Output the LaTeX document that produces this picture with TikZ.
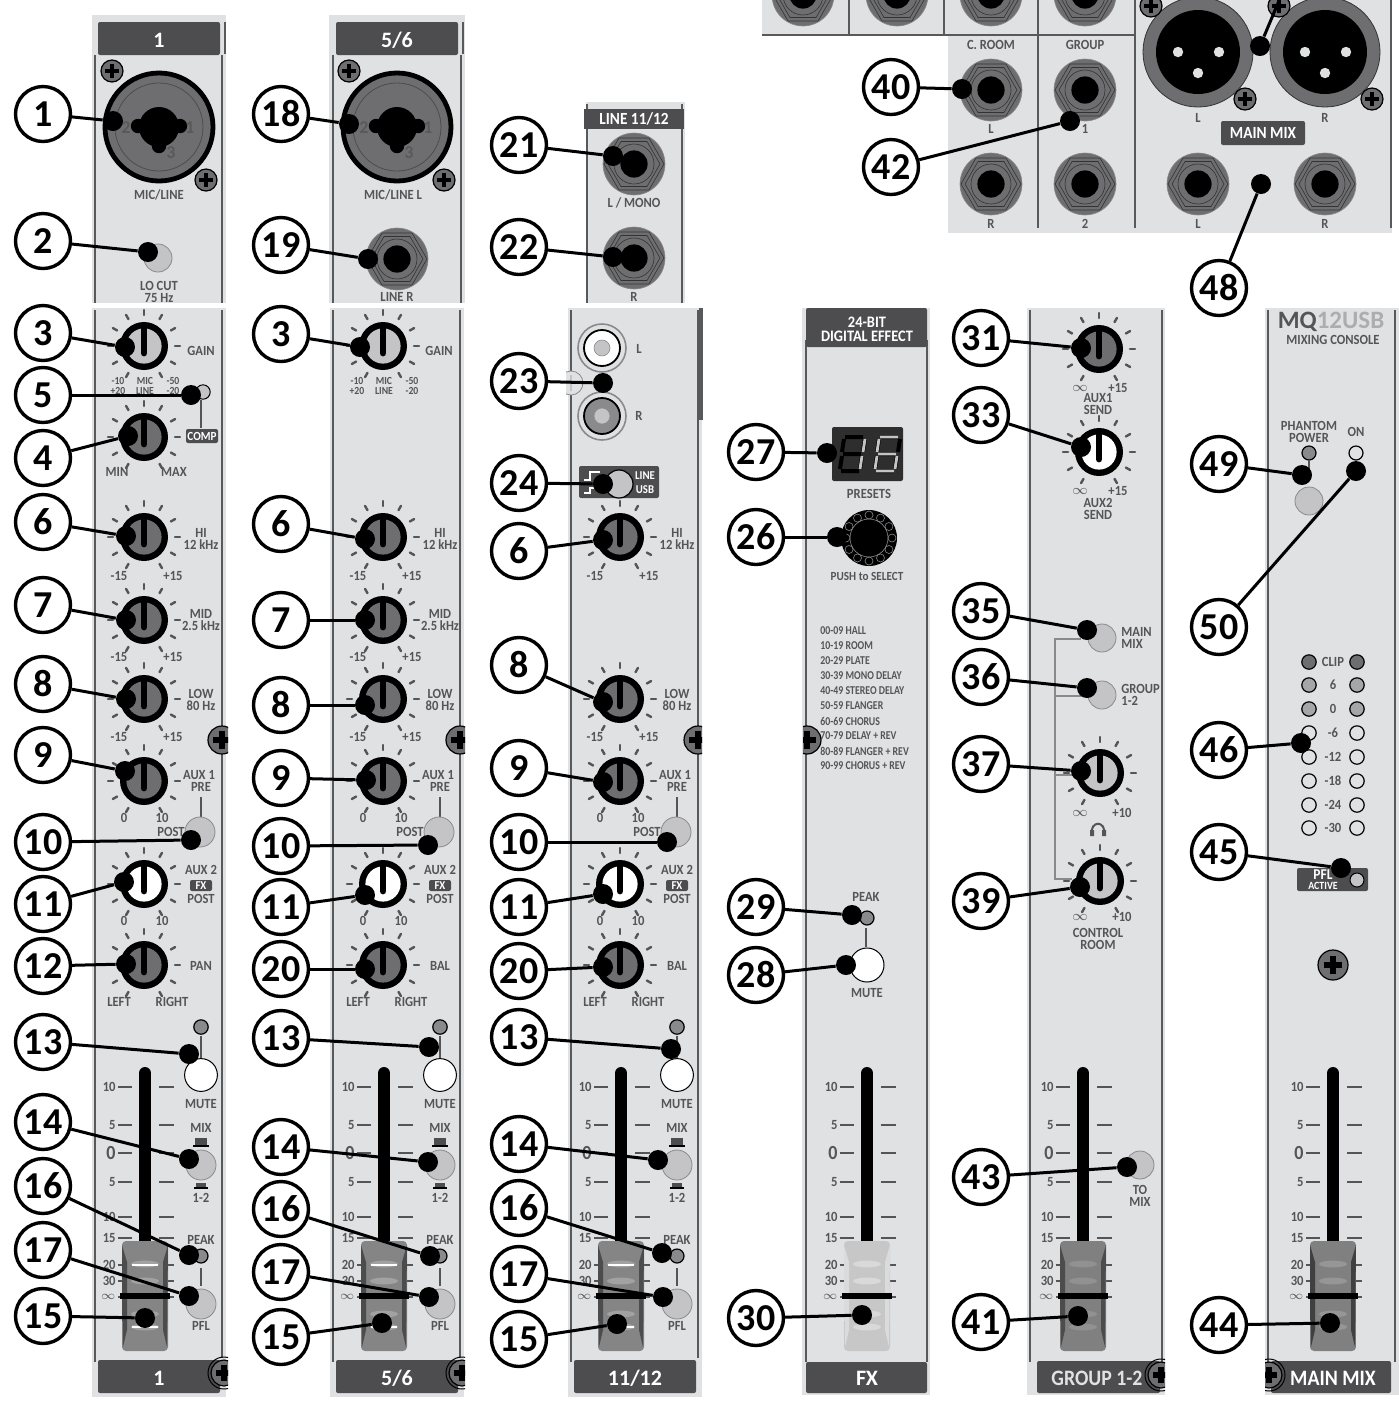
\documentclass[tikz,border=0pt]{standalone}
\usepackage{fontspec}
\setmainfont{Carlito}
\newfontfamily\labfont[FakeStretch=0.9]{Carlito}
\newfontfamily\listfont[FakeStretch=0.82]{Carlito}
\definecolor{pnl}{HTML}{E0E1E3}
\definecolor{edge}{HTML}{58595B}
\definecolor{hdr}{HTML}{4D4D4F}
\definecolor{txt}{HTML}{555557}
\definecolor{midg}{HTML}{6E6E70}
\definecolor{ltg}{HTML}{C4C4C6}
\definecolor{ledg}{HTML}{8A8A8C}
\tikzset{
  lbl/.style={text=txt,font=\labfont\fontsize{7}{6}\bfseries\selectfont,inner sep=0pt,align=center},
  tight/.style={font=\labfont\fontsize{5.4}{5}\bfseries\selectfont},
  wht/.style={lbl,text=white},
  hdrtxt/.style={lbl,text=white,font=\fontsize{11}{10}\bfseries\selectfont},
  callnode/.style={circle,draw=black,line width=1.7pt,fill=white,minimum size=27.5pt,inner sep=0pt,font=\fontsize{19}{19}\bfseries\selectfont},
  dotnode/.style={circle,fill=black,minimum size=10pt,inner sep=0pt},
  conn/.style={line width=1.5pt,draw=black},
  edgeline/.style={draw=edge,line width=1.2pt},
  thinline/.style={draw=txt,line width=.6pt},
  btn/.style={draw=ledg,line width=.4pt},
  led/.style={draw=black,line width=.6pt},
  tick/.style={draw=txt,line width=1.2pt,line cap=round},
}
\newcommand{\lab}[4][]{\node[lbl,#1] at (#2,#3) {#4};}
\newcommand{\knob}[3]{%
  \foreach \a in {120,150,...,420} {\draw[tick] (#1,#2) ++(\a:31) -- ++(\a:5);}
  \fill[black] (#1,#2) circle[radius=12pt];
  \fill[#3] (#1,#2) circle[radius=8.8pt];
  \draw[black,line width=.25pt,draw opacity=.5,dash pattern=on 2pt off 1pt] (#1,#2) circle[radius=10pt];
  \draw[black,line width=3.4pt,line cap=round] (#1,#2+7) -- (#1,#2-19);
}
\newcommand{\screw}[3]{%
  \filldraw[fill=midg,draw=black,line width=.6pt] (#1,#2) circle[radius=#3*.5pt];
  \draw[black,line width=#3*.2pt] (#1-#3*.62,#2) -- (#1+#3*.62,#2) (#1,#2-#3*.62) -- (#1,#2+#3*.62);
}
\newcommand{\bigscrew}[2]{%
  \draw[black,line width=.5pt] (#1,#2) circle[radius=8pt];
  \screw{#1}{#2}{13}
}
\newcommand{\jack}[2]{%
  \begin{scope}[shift={(#1,#2)}]
  \filldraw[fill=midg,draw=ledg,line width=.3pt] (0,0) circle[radius=15.5pt];
  \draw[draw=black!80,line width=.3pt] (0:30) -- (60:30) -- (120:30) -- (180:30) -- (240:30) -- (300:30) -- cycle;
  \draw[draw=black!80,line width=.3pt] (0:26) -- (60:26) -- (120:26) -- (180:26) -- (240:26) -- (300:26) -- cycle;
  \draw[draw=black!80,line width=.3pt] (0,0) circle[radius=10pt];
  \fill[black] (0,0) circle[radius=6.8pt];
  \end{scope}
}
\newcommand{\xlr}[2]{%
  \begin{scope}[shift={(#1,#2)}]
  \filldraw[fill=midg,draw=black!80,line width=.4pt] (0,0) circle[radius=27.5pt];
  \fill[black] (0,0) circle[radius=21pt];
  \fill[pnl] (-20,0) circle[radius=2.6pt] (21,0) circle[radius=2.6pt] (0,21) circle[radius=2.6pt];
  \end{scope}
}
\newcommand{\combo}[2]{%
  \begin{scope}[shift={(#1,#2)}]
  \filldraw[fill=midg,draw=black,line width=2.4pt] (0,0) circle[radius=27pt];
  \draw[black!70,line width=.4pt] (0,0) circle[radius=22pt];
  \fill[black] (0,0) circle[radius=10pt] (-21,-1) circle[radius=3.6pt] (21,-1) circle[radius=3.6pt] (0,19) circle[radius=3.6pt];
  \fill[black] (-21,-4) rectangle (21,2);
  \node[lbl,text=black!65,font=\fontsize{9}{9}\bfseries\selectfont] at (-33,1) {2};
  \node[lbl,text=black!65,font=\fontsize{9}{9}\bfseries\selectfont] at (31,1) {1};
  \node[lbl,text=black!65,font=\fontsize{9}{9}\bfseries\selectfont] at (12,26) {3};
  \end{scope}
}
\newcommand{\panel}[4]{\fill[pnl] (#1,#2) rectangle (#3,#4);}
\newcommand{\hdrbox}[4]{\fill[hdr,rounded corners=1pt] (#1,#2) rectangle (#3,#4);}
\newcommand{\fader}[4]{% x, shade end colour, side colour, ridge colour
  \colorlet{sidec}{#3}
  \colorlet{sidem}{sidec!30}
  \begin{scope}[shift={(#1,0)}]
  \foreach \y/\t/\s in {1087/10/7,1125/5/7,1153/0/10,1182/5/7,1217/10/7,1238/15/7,1265/20/7,1281/30/7,1297/{$\infty$}/6} {
    \node[lbl,anchor=east,font=\labfont\fontsize{\s}{\s}\bfseries\selectfont] at (-29,\y) {\t};
    \draw[draw=txt,line width=.8pt] (-27,\y) -- (-13,\y) (14,\y) -- (29,\y);
  }
  \draw[black,line width=6pt,line cap=round] (0,1073) -- (0,1250);
  \shade[top color=#2,middle color=white,bottom color=#2,rounded corners=2pt] (-23,1241) rectangle (23,1351);
  \shade[top color=sidec,middle color=sidem,bottom color=sidec] (-23,1245) -- (-18,1262) -- (-18,1330) -- (-22,1347) -- cycle;
  \shade[top color=sidec,middle color=sidem,bottom color=sidec] (23,1245) -- (18,1262) -- (18,1330) -- (22,1347) -- cycle;
  \foreach \y in {1264,1281,1314,1327} {\fill[#4,fill opacity=.45] (0,\y) ellipse[x radius=7pt,y radius=1.7pt];}
  \draw[black,line width=3pt] (-25,1296) -- (25,1296);
  \end{scope}
}
\newcommand{\eqrows}[1]{%
  \knob{144}{537}{midg}
  \lab{201}{533}{HI}\lab{201}{545}{12 kHz}\lab{119}{576}{-15}\lab{173}{576}{+15}
  \ifnum#1=1
  \knob{144}{620}{midg}
  \lab{201}{614}{MID}\lab{201}{626}{2.5 kHz}\lab{119}{657}{-15}\lab{173}{657}{+15}
  \fi
  \knob{144}{699}{midg}
  \lab{201}{694}{LOW}\lab{201}{706}{80 Hz}\lab{119}{737}{-15}\lab{173}{737}{+15}
}
\newcommand{\auxrows}[1]{%
  \knob{144}{781}{midg}
  \lab{199}{775}{AUX 1}\lab{201}{787}{PRE}\lab{124}{818}{0}\lab{162}{818}{10}\lab{171}{832}{POST}
  \draw[thinline] (201,797) -- (201,818);
  \filldraw[fill=ltg,btn] (200,832) circle[radius=7.5pt];
  \knob{144}{884}{white}
  \lab{201}{870}{AUX 2}\lab{201}{899}{POST}\lab{124}{921}{0}\lab{162}{921}{10}
  \fill[hdr,rounded corners=1pt] (190,880) rectangle (212,891);
  \node[wht,font=\labfont\fontsize{6}{6}\bfseries\selectfont] at (201,885.5) {FX};
  \knob{144}{965}{midg}
  \lab{201}{966}{#1}\lab{119}{1002}{LEFT}\lab{172}{1002}{RIGHT}
}
\newcommand{\lowerrow}{%
  \filldraw[fill=ledg,led] (201,1027) circle[radius=3.6pt];
  \draw[thinline] (201,1036) -- (201,1058);
  \filldraw[fill=white,draw=black,line width=.5pt] (201,1075) circle[radius=8.2pt];
  \lab{201}{1104}{MUTE}
  \lab{201}{1128}{MIX}
  \fill[hdr] (195,1138) rectangle (207,1145);
  \draw[black,line width=.6pt] (193,1146) -- (209,1146);
  \filldraw[fill=ltg,btn] (201,1165) circle[radius=7.5pt];
  \fill[hdr] (196,1183) rectangle (206,1187);
  \draw[black,line width=.6pt] (194,1188) -- (208,1188);
  \lab{201}{1198}{1-2}
  \lab{201}{1240}{PEAK}
  \filldraw[fill=ledg,led] (201,1256) circle[radius=3.5pt];
  \draw[thinline] (201,1268) -- (201,1286);
  \filldraw[fill=ltg,btn] (201,1304) circle[radius=7.5pt];
  \lab{201}{1326}{PFL}
  \fader{145}{black!48}{black!70}{black!22}
  \draw[white,line width=.7pt] (132,1265) -- (158,1265) (132,1327) -- (158,1327);
}
\newcommand{\strip}[2]{% panel skeleton at offset, bottom label
  \begin{scope}[shift={(#1,0)}]
  \panel{92}{308}{226}{1397}
  \draw[edgeline] (95,310) -- (95,1362) (222,310) -- (222,1358);
  \hdrbox{98}{1360}{220}{1393}
  \node[hdrtxt] at (159,1378) {#2};
  \end{scope}
}
\newcommand{\bottomScrew}[4]{%
  \begin{scope}\clip (#3,#2-30) rectangle (#4,#2+30); \bigscrew{#1}{#2} \end{scope}
}
\newcommand{\sideScrew}[4]{%
  \begin{scope}\clip (#3,#2-30) rectangle (#4,#2+30); \screw{#1}{#2}{14} \end{scope}
}
\newcommand{\callout}[6]{%
  \node[dotnode] (d#1) at (#5,#6) {};
  \node[callnode] (c#1) at (#3,#4) {#2};
  \draw[conn] (c#1) -- (d#1);
}
\begin{document}
\begin{tikzpicture}[x=.5pt,y=-.5pt]
\useasboundingbox (0,0) rectangle (1399,1405);
\clip (0,0) rectangle (1399,1405);
\fill[white] (0,0) rectangle (1399,1405);
% ---- strip 1 top
\panel{92}{15}{226}{303}
\hdrbox{98}{22}{220}{55}
\node[hdrtxt] at (159,40) {1};
\draw[edgeline] (95,55) -- (95,303) (222,55) -- (222,303) (225,22) -- (225,54);
\combo{159}{127}
\screw{112}{71}{11}\screw{206}{180}{11}
\lab{159}{195}{MIC/LINE}
\filldraw[fill=ltg,btn] (158,258) circle[radius=7pt];
\lab{159}{292}{LO CUT\\75 Hz}
% ---- strip 5/6 top
\panel{329}{15}{465}{303}
\hdrbox{336}{22}{458}{55}
\node[hdrtxt] at (397,40) {5/6};
\draw[edgeline] (333,55) -- (333,303) (461,55) -- (461,303) (463,22) -- (463,54);
\combo{397}{127}
\screw{349}{71}{11}\screw{444}{180}{11}
\lab{393}{195}{MIC/LINE L}
\jack{397}{259}
\lab{397}{297}{LINE R}
% ---- line 11/12 top
\panel{586}{102}{685}{303}
\draw[edgeline] (587,104) -- (587,303) (682,104) -- (682,303);
\fill[hdr] (584,109) rectangle (684,129);
\node[wht,font=\labfont\fontsize{8.5}{8}\bfseries\selectfont] at (634,119) {LINE 11/12};
\jack{634}{164}\jack{634}{258}
\lab{634}{203}{L / MONO}\lab{634}{297}{R}
% ---- strips
\strip{0}{1}\strip{238}{5/6}\strip{476}{11/12}
% strip 1 lower
\knob{144}{346}{ltg}
\lab{201}{351}{GAIN}
\lab[tight]{118}{386}{-10\\+20}\lab[tight]{145}{386}{MIC\\LINE}\lab[tight]{173}{386}{-50\\-20}
\filldraw[fill=ltg,draw=black,line width=.5pt] (203,392) circle[radius=3.6pt];
\draw[thinline] (201,400) -- (201,428);
\knob{144}{437}{midg}
\fill[hdr,rounded corners=1pt] (186,429) rectangle (218,443);
\node[wht,font=\labfont\fontsize{6.2}{6}\bfseries\selectfont] at (202,436) {COMP};
\lab{117}{472}{MIN}\lab{174}{472}{MAX}
\eqrows{1}\auxrows{PAN}\lowerrow
\sideScrew{222}{740}{190}{228}
\bottomScrew{224}{1373}{190}{228}
% strip 2 lower
\begin{scope}[shift={(239,0)}]
\knob{144}{346}{ltg}
\lab{200}{351}{GAIN}
\lab[tight]{118}{386}{-10\\+20}\lab[tight]{145}{386}{MIC\\LINE}\lab[tight]{173}{386}{-50\\-20}
\eqrows{1}\auxrows{BAL}\lowerrow
\sideScrew{221}{740}{190}{226}
\bottomScrew{223}{1373}{190}{226}
\end{scope}
% strip 3 lower
\begin{scope}[shift={(476,0)}]
\eqrows{0}\auxrows{BAL}\lowerrow
\sideScrew{222}{740}{190}{226}
\end{scope}
\draw[edge,line width=2pt] (701,308) -- (701,420);
% rca
\begin{scope}[shift={(602,348)}]
\filldraw[fill=pnl,draw=ledg,line width=.8pt] (0,0) circle[radius=12pt];
\filldraw[fill=white,draw=black,line width=.9pt] (0,0) circle[radius=9pt];
\filldraw[fill=ltg,draw=ledg,line width=.3pt] (0,0) circle[radius=4pt];
\end{scope}
\begin{scope}[shift={(602,416)}]
\filldraw[fill=pnl,draw=ledg,line width=.8pt] (0,0) circle[radius=12pt];
\filldraw[fill=ledg,draw=black,line width=.9pt] (0,0) circle[radius=9pt];
\filldraw[fill=ltg,draw=ledg,line width=.3pt] (0,0) circle[radius=4pt];
\end{scope}
\lab{639}{349}{L}\lab{639}{416}{R}
\begin{scope}\clip (566,365) rectangle (590,400);
\filldraw[fill=pnl,draw=ledg,line width=.4pt] (571,383) circle[radius=6pt];
\draw[ltg,line width=1.2pt] (563,383) -- (579,383) (571,375) -- (571,391);
\end{scope}
\fill[hdr,rounded corners=1pt] (579,466) rectangle (659,498);
\draw[white,line width=.7pt] (584,480) -- (590,480) -- (590,472) -- (600,472);
\draw[white,line width=.7pt] (584,493) -- (590,493) -- (590,488) -- (600,488);
\filldraw[fill=ltg,draw=black,line width=.6pt] (619,484) circle[radius=7pt];
\node[wht,font=\labfont\fontsize{6}{6}\bfseries\selectfont] at (645,476) {LINE};
\node[wht,font=\labfont\fontsize{6}{6}\bfseries\selectfont] at (645,490) {USB};
% ---- FX
\panel{802}{308}{930}{1395}
\draw[edgeline] (806,340) -- (806,1362) (927,340) -- (927,1362);
\fill[hdr,rounded corners=1pt] (806,308) rectangle (927,347);
\node[wht,font=\labfont\fontsize{8}{7}\bfseries\selectfont] at (867,329) {24-BIT\\DIGITAL EFFECT};
\hdrbox{806}{1362}{927}{1393}
\node[hdrtxt] at (867,1378) {FX};
\fill[black!82,rounded corners=1pt] (832,427) rectangle (903,481);
\foreach \x in {842,877} {
  \draw[black,line width=2pt] (\x+3,437) -- (\x+21,437) (\x+1,454) -- (\x+19,454) (\x-1,471) -- (\x+17,471)
   (\x+2,439) -- (\x,452) (\x,456) -- (\x-2,469) (\x+23,439) -- (\x+21,452) (\x+20,456) -- (\x+18,469);
}
\draw[ltg,line width=1.4pt] (865,439) -- (863,452) (862,456) -- (860,469);
\draw[ltg,line width=1.4pt] (880,437) -- (898,437) (879,439) -- (877,452) (878,454) -- (896,454) (877,456) -- (875,469) (876,471) -- (894,471) (897,456) -- (895,469);
\lab{869}{494}{PRESETS}
\fill[black] (869,538) circle[radius=14pt];
\foreach \a in {0,30,...,330} {\draw[ledg,line width=.3pt] (869,538) ++(\a:23) circle[radius=2pt];}
\draw[ledg,line width=.3pt] (869,538) circle[radius=9.5pt];
\node[lbl,font=\labfont\fontsize{6.2}{6}\bfseries\selectfont] at (867,576) {PUSH to SELECT};
\foreach \y/\t in {631/00-09 HALL,646/10-19 ROOM,661/20-29 PLATE,676/30-39 MONO DELAY,691/40-49 STEREO DELAY,706/50-59 FLANGER,721/60-69 CHORUS,736/70-79 DELAY + REV,751/80-89 FLANGER + REV,766/90-99 CHORUS + REV}{
  \node[lbl,anchor=west,font=\listfont\fontsize{6}{6}\bfseries\selectfont] at (820,\y) {\t};
}
\lab{866}{897}{PEAK}
\filldraw[fill=ledg,led] (867,918) circle[radius=3.5pt];
\draw[thinline] (866,928) -- (866,947);
\filldraw[fill=white,draw=black,line width=.5pt] (867,965) circle[radius=8.5pt];
\lab{867}{993}{MUTE}
\fader{867}{black!22}{black!14}{black!6}
\sideScrew{807}{740}{803}{840}
% ---- GROUP
\panel{1027}{308}{1165}{1395}
\draw[edgeline] (1030,310) -- (1030,1362) (1162,310) -- (1162,1362);
\knob{1099}{349}{midg}
\lab{1080}{388}{$\infty$}\lab{1118}{388}{+15}\lab{1098}{404}{AUX1\\SEND}
\knob{1099}{452}{white}
\lab{1080}{491}{$\infty$}\lab{1118}{491}{+15}\lab{1098}{509}{AUX2\\SEND}
\draw[draw=ledg,line width=.9pt] (1081,639) -- (1055,639) -- (1055,879) -- (1072,879) (1055,696) -- (1085,696) (1055,775) -- (1072,775);
\filldraw[fill=ltg,btn] (1102,638) circle[radius=7pt];
\filldraw[fill=ltg,btn] (1102,695) circle[radius=7pt];
\lab[anchor=west,align=left]{1121}{638}{MAIN\\MIX}
\lab[anchor=west,align=left]{1121}{695}{GROUP\\1-2}
\knob{1100}{773}{ltg}
\lab{1080}{813}{$\infty$}\lab{1122}{813}{+10}
\draw[txt,line width=1pt] (1092,835) .. controls (1089,820) and (1107,820) .. (1104,835);
\fill[txt] (1090,830) rectangle (1094,836) (1102,830) rectangle (1106,836);
\knob{1100}{881}{ltg}
\lab{1080}{917}{$\infty$}\lab{1122}{917}{+10}\lab{1098}{939}{CONTROL\\ROOM}
\filldraw[fill=ltg,btn] (1140,1165) circle[radius=7pt];
\lab{1140}{1196}{TO\\MIX}
\fader{1083}{black!50}{black!70}{black!35}
\hdrbox{1037}{1361}{1160}{1393}
\node[hdrtxt,text=pnl,font=\labfont\fontsize{11}{10}\bfseries\selectfont] at (1097,1378) {GROUP 1-2};
\bottomScrew{1161}{1375}{1130}{1165}
% ---- MAIN
\panel{1265}{308}{1399}{1395}
\draw[edgeline] (1268,310) -- (1268,1362) (1395,310) -- (1395,1362);
\node[lbl,font=\fontsize{12.5}{12}\bfseries\selectfont] at (1331,322) {\textcolor{txt}{MQ}\textcolor{ledg!70}{12USB}};
\lab{1333}{340}{MIXING CONSOLE}
\lab{1309}{432}{PHANTOM\\POWER}\lab{1356}{432}{ON}
\filldraw[fill=ledg,led] (1309,453) circle[radius=3.5pt];
\filldraw[fill=pnl,led] (1356,453) circle[radius=3.5pt];
\draw[thinline] (1309,460) -- (1309,478);
\filldraw[fill=ltg,btn] (1309,501) circle[radius=7pt];
\foreach \y/\t/\c in {662/CLIP/midg,685/6/black!35,709/0/black!35,733/-6/pnl,757/-12/pnl,781/-18/pnl,805/-24/pnl,828/-30/pnl}{
  \filldraw[fill=\c,led] (1309,\y) circle[radius=3.6pt];
  \filldraw[fill=\c,led] (1357,\y) circle[radius=3.6pt];
  \lab{1333}{\y}{\t}
}
\fill[hdr,rounded corners=1pt] (1297,868) rectangle (1368,891);
\node[wht,font=\labfont\fontsize{7.5}{7}\bfseries\selectfont] at (1323,875) {PFL};
\node[wht,font=\labfont\fontsize{5.5}{5}\bfseries\selectfont] at (1323,885.5) {ACTIVE};
\filldraw[fill=ltg,draw=black,line width=.5pt] (1357,880) circle[radius=3.5pt];
\screw{1333}{965}{15}
\fader{1333}{black!50}{black!75}{black!30}
\hdrbox{1271}{1361}{1391}{1393}
\node[hdrtxt,font=\labfont\fontsize{11}{10}\bfseries\selectfont] at (1333,1378) {MAIN MIX};
\bottomScrew{1269}{1375}{1265}{1300}
% ---- rear panel
\fill[pnl] (762,0) rectangle (1135,35);
\fill[pnl] (948,35) rectangle (1392,233);
\fill[pnl] (1135,0) rectangle (1392,35);
\foreach \x in {803,897,991,1085} {\jack{\x}{-5}}
\draw[draw=edge,line width=1pt] (762,35) -- (1135,35);
\draw[draw=edge,line width=1pt] (849,0) -- (849,35) (944,0) -- (944,35) (1038,0) -- (1038,228) (1135,0) -- (1135,228) (1391,0) -- (1391,228);
\lab{991}{45}{C. ROOM}\lab{1085}{45}{GROUP}
\jack{991}{90}\jack{1085}{90}\jack{991}{184}\jack{1085}{184}\jack{1198}{184}\jack{1325}{184}
\lab{991}{129}{L}\lab{1085}{129}{1}\lab{991}{224}{R}\lab{1085}{224}{2}
\xlr{1198}{52}\xlr{1325}{52}
\screw{1151}{6}{11}\screw{1279}{6}{11}\screw{1245}{99}{11}\screw{1372}{99}{11}
\lab{1198}{118}{L}\lab{1325}{118}{R}
\fill[hdr,rounded corners=1pt] (1221,121) rectangle (1305,145);
\node[wht,font=\labfont\fontsize{8.5}{8}\bfseries\selectfont] at (1263,133) {MAIN MIX};
\lab{1198}{224}{L}\lab{1325}{224}{R}
% ---- callouts
\callout{a1}{1}{43}{114}{113}{121}
\callout{a2}{2}{43}{241}{148}{252}
\callout{a3}{3}{43}{333}{125}{347}
\callout{a5}{5}{43}{395}{191}{395}
\callout{a4}{4}{43}{458}{128}{436}
\callout{a6}{6}{43}{522}{126}{536}
\callout{a7}{7}{43}{605}{126}{620}
\callout{a8}{8}{43}{684}{126}{699}
\callout{a9}{9}{43}{755}{125}{771}
\callout{a10}{10}{43}{842}{191}{840}
\callout{a11}{11}{43}{904}{124}{882}
\callout{a12}{12}{43}{966}{126}{964}
\callout{a13}{13}{43}{1042}{189}{1054}
\callout{a14}{14}{43}{1122}{189}{1159}
\callout{a16}{16}{43}{1186}{189}{1255}
\callout{a17}{17}{43}{1250}{189}{1296}
\callout{a15}{15}{43}{1316}{145}{1318}
\callout{b18}{18}{281}{114}{349}{124}
\callout{b19}{19}{281}{245}{368}{259}
\callout{b3}{3}{281}{334}{360}{347}
\callout{b6}{6}{281}{524}{365}{539}
\callout{b7}{7}{281}{620}{365}{620}
\callout{b8}{8}{281}{705}{365}{705}
\callout{b9}{9}{281}{778}{366}{780}
\callout{b10}{10}{281}{846}{428}{845}
\callout{b11}{11}{281}{907}{365}{895}
\callout{b20}{20}{281}{969}{365}{969}
\callout{b13}{13}{281}{1038}{429}{1047}
\callout{b14}{14}{281}{1147}{428}{1162}
\callout{b16}{16}{281}{1209}{430}{1256}
\callout{b17}{17}{281}{1272}{429}{1297}
\callout{b15}{15}{281}{1337}{382}{1323}
\callout{e21}{21}{519}{145}{613}{156}
\callout{e22}{22}{519}{247}{613}{257}
\callout{e23}{23}{519}{381}{603}{383}
\callout{e24}{24}{519}{483}{603}{484}
\callout{e6}{6}{519}{551}{603}{540}
\callout{e8}{8}{519}{665}{603}{702}
\callout{e9}{9}{519}{768}{603}{782}
\callout{e10}{10}{519}{842}{667}{842}
\callout{e11}{11}{519}{907}{603}{894}
\callout{e20}{20}{519}{971}{603}{967}
\callout{e13}{13}{519}{1037}{671}{1049}
\callout{e14}{14}{519}{1144}{658}{1160}
\callout{e16}{16}{519}{1208}{662}{1253}
\callout{e17}{17}{519}{1274}{663}{1297}
\callout{e15}{15}{519}{1339}{617}{1324}
\callout{f27}{27}{756}{452}{827}{453}
\callout{f26}{26}{756}{537}{837}{537}
\callout{f29}{29}{756}{907}{852}{915}
\callout{f28}{28}{756}{975}{846}{965}
\callout{f30}{30}{756}{1318}{862}{1315}
\callout{g31}{31}{981}{338}{1081}{348}
\callout{g33}{33}{981}{415}{1081}{447}
\callout{g35}{35}{981}{611}{1087}{630}
\callout{g36}{36}{981}{677}{1087}{688}
\callout{g37}{37}{981}{764}{1081}{771}
\callout{g39}{39}{981}{901}{1080}{887}
\callout{g43}{43}{981}{1177}{1127}{1167}
\callout{g41}{41}{981}{1322}{1078}{1316}
\callout{g40}{40}{891}{87}{962}{89}
\callout{g42}{42}{891}{167}{1070}{121}
\callout{m48}{48}{1219}{288}{1261}{184}
\callout{m49}{49}{1219}{464}{1302}{475}
\callout{m50}{50}{1219}{627}{1356}{471}
\callout{m46}{46}{1219}{750}{1301}{743}
\callout{m45}{45}{1219}{852}{1341}{868}
\callout{m44}{44}{1219}{1325}{1330}{1323}
\node[dotnode] (d47) at (1260,46) {};
\coordinate (c47) at (1281,-4);
\draw[conn] (c47) -- (d47);
\end{tikzpicture}
\end{document}
